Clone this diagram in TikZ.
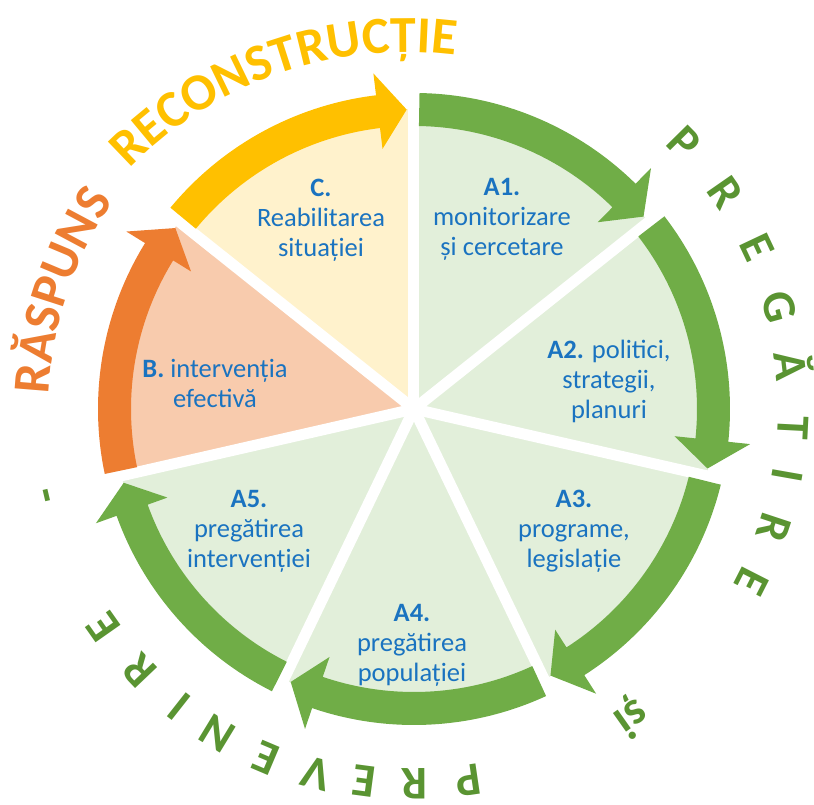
\documentclass[tikz,border=0pt]{standalone}
\usepackage{fontspec}
\setmainfont{Carlito}
\usetikzlibrary{decorations.text,calc}
\definecolor{bandgreen}{HTML}{70AD47}
\definecolor{bandorange}{HTML}{ED7D31}
\definecolor{bandyellow}{HTML}{FFC000}
\definecolor{fillgreen}{HTML}{E2EFDA}
\definecolor{fillorange}{HTML}{F8CBAD}
\definecolor{fillyellow}{HTML}{FFF2CC}
\definecolor{textblue}{HTML}{1A73C0}
\definecolor{lettergreen}{HTML}{5A9432}
\newcommand{\sectfont}{\fontsize{26.5}{30}\selectfont}
\newcommand{\bigfont}{\fontsize{52}{60}\selectfont\bfseries}
\newcommand{\ringfont}{\fontsize{47}{56}\selectfont\bfseries}

\begin{document}
\begin{tikzpicture}[x=1pt,y=1pt]
 \useasboundingbox (-414,-396) rectangle (400,409);

 % sectors
 \fill[fillgreen] (0,0) -- (90:300) arc[start angle=90, end angle=38.57, radius=300] -- cycle;
 \fill[fillgreen] (0,0) -- (38.57:300) arc[start angle=38.57, end angle=-12.86, radius=300] -- cycle;
 \fill[fillgreen] (0,0) -- (-12.86:300) arc[start angle=-12.86, end angle=-64.29, radius=300] -- cycle;
 \fill[fillgreen] (0,0) -- (-64.29:300) arc[start angle=-64.29, end angle=-115.71, radius=300] -- cycle;
 \fill[fillgreen] (0,0) -- (-115.71:300) arc[start angle=-115.71, end angle=-167.14, radius=300] -- cycle;
 \fill[fillorange] (0,0) -- (192.86:300) arc[start angle=192.86, end angle=141.43, radius=300] -- cycle;
 \fill[fillyellow] (0,0) -- (141.43:300) arc[start angle=141.43, end angle=90, radius=300] -- cycle;

 \begin{scope}[every path/.style={draw=white, line width=11pt}]
    \draw (0,0) -- (90:305);
    \draw (0,0) -- (38.57:305);
    \draw (0,0) -- (-12.86:305);
    \draw (0,0) -- (-64.29:305);
    \draw (0,0) -- (-115.71:305);
    \draw (0,0) -- (192.86:305);
    \draw (0,0) -- (141.43:305);
 \end{scope}

 % arrows
 \fill[bandgreen] (89:316) arc[start angle=89, end angle=45.47, radius=316] -- (45.47:338) -- (39.97:299.5) -- (45.47:262) -- (45.47:283) arc[start angle=45.47, end angle=89, radius=283] -- cycle;
 \fill[bandgreen] (37.57:316) arc[start angle=37.57, end angle=-5.96, radius=316] -- (-5.96:338) -- (-11.46:299.5) -- (-5.96:262) -- (-5.96:283) arc[start angle=-5.96, end angle=37.57, radius=283] -- cycle;
 \fill[bandgreen] (-13.86:316) arc[start angle=-13.86, end angle=-57.39, radius=316] -- (-57.39:338) -- (-62.89:299.5) -- (-57.39:262) -- (-57.39:283) arc[start angle=-57.39, end angle=-13.86, radius=283] -- cycle;
 \fill[bandgreen] (-65.29:316) arc[start angle=-65.29, end angle=-108.81, radius=316] -- (-108.81:338) -- (-114.31:299.5) -- (-108.81:262) -- (-108.81:283) arc[start angle=-108.81, end angle=-65.29, radius=283] -- cycle;
 \fill[bandgreen] (-116.71:316) arc[start angle=-116.71, end angle=-160.24, radius=316] -- (-160.24:338) -- (-165.74:299.5) -- (-160.24:262) -- (-160.24:283) arc[start angle=-160.24, end angle=-116.71, radius=283] -- cycle;
 \fill[bandorange] (191.86:316) arc[start angle=191.86, end angle=148.33, radius=316] -- (148.33:338) -- (142.83:299.5) -- (148.33:262) -- (148.33:283) arc[start angle=148.33, end angle=191.86, radius=283] -- cycle;
 \fill[bandyellow] (140.43:316) arc[start angle=140.43, end angle=96.9, radius=316] -- (96.9:338) -- (91.4:299.5) -- (96.9:262) -- (96.9:283) arc[start angle=96.9, end angle=140.43, radius=283] -- cycle;

 \begin{scope}[every node/.append style={align=center, text=textblue, font=\sectfont}]
    \node (c) at (-93,189) {\textbf{C.}\\Reabilitarea\\situației};
    \node (a1) at (88,190) {\textbf{A1.}\\monitorizare\\și cercetare};
    \node (a2) at (195,28) {\textbf{A2.} politici,\\strategii,\\planuri};
    \node (a3) at (160,-122) {\textbf{A3.}\\programe,\\legislație};
    \node (a4) at (-2,-236) {\textbf{A4.}\\pregătirea\\populației};
    \node (a5) at (-165,-122) {\textbf{A5.}\\pregătirea\\intervenției};
    \node (b) at (-199,25.5) {\textbf{B.} intervenția\\efectivă};
 \end{scope}

 % outer titles
 \path[decorate, decoration={text along path, text align=center,
    text={|\color{bandorange}\bigfont|RĂSPUNS}}]
    (195:365) arc[start angle=195, end angle=128, radius=365];
 \path[decorate, decoration={text along path, text align=center,
    text={|\color{bandyellow}\bigfont|RECONSTRUCȚIE}}]
    ($(-8,-27)+(145:384)$) arc[start angle=145, end angle=73.6, radius=384];

 \begin{scope}[every node/.append style={text=lettergreen, font=\ringfont, anchor=base, inner sep=0pt}]
    \node[rotate=-45.4] (g1) at (44.6:364) {P};
    \node[rotate=-55.2] (g2) at (34.8:364) {R};
    \node[rotate=-64.7] (g3) at (25.3:364) {E};
    \node[rotate=-74.4] (g4) at (15.6:364) {G};
    \node[rotate=-83.4] (g5) at (6.6:364) {Ă};
    \node[rotate=-92.9] (g6) at (-2.9:364) {T};
    \node[rotate=-100] (g7) at (-10:364) {I};
    \node[rotate=-108.3] (g8) at (-18.3:364) {R};
    \node[rotate=-117] (g9) at (-27:364) {E};
    \node[rotate=-144.8] (si) at (-54.8:364) {și};
    \node[rotate=-171.7] (v1) at (-81.7:360) {P};
    \node[rotate=-179.9] (v2) at (-89.9:360) {R};
    \node[rotate=-187.6] (v3) at (-97.6:360) {E};
    \node[rotate=-195] (v4) at (-105:362) {V};
    \node[rotate=-203] (v5) at (-113:364) {E};
    \node[rotate=-211.3] (v6) at (-121.3:364) {N};
    \node[rotate=-218.2] (v7) at (-128.2:364) {I};
    \node[rotate=-226.4] (v8) at (-136.4:364) {R};
    \node[rotate=-234.9] (v9) at (-144.9:364) {E};
    \node[rotate=-256.8] (dash) at (-166.8:364) {-};
 \end{scope}
\end{tikzpicture}
\end{document}
